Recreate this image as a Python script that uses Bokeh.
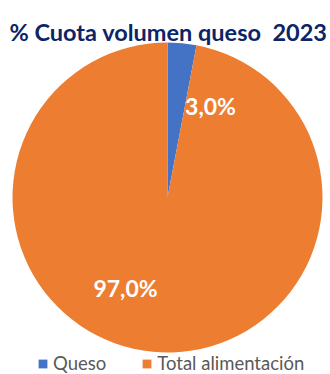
import math
from bokeh.plotting import figure
from bokeh.models import Range1d, Label, Legend, LegendItem
from bokeh.embed import file_html
from bokeh.resources import INLINE

title = "% Cuota volumen queso\u00a0\u00a02023"
categories = ["Queso", "Total alimentación"]
shares = [3.0, 97.0]
colors = ["#4472C4", "#ED7D31"]

# label placement (style)
label_pos = [(43, 92), (-42, -90.5)]

total = sum(shares)
starts, ends = [], []
a = math.pi / 2
for s in shares:
    starts.append(a)
    a = a - 2 * math.pi * s / total
    ends.append(a)

p = figure(width=330, height=374, output_backend="svg", toolbar_location=None,
           x_range=Range1d(-167, 163), y_range=Range1d(-177, 197),
           min_border=0, outline_line_color=None)
p.axis.visible = False
p.grid.visible = False
p.background_fill_color = "white"
p.border_fill_color = "white"

items = []
for i in range(len(categories)):
    r = p.wedge(x=0, y=0, radius=155, start_angle=starts[i], end_angle=ends[i],
                direction="clock", fill_color=colors[i], line_color=None)
    items.append(LegendItem(label=categories[i], renderers=[r]))

for i, v in enumerate(shares):
    txt = ("%.1f" % v).replace(".", ",") + "%"
    p.add_layout(Label(x=label_pos[i][0], y=label_pos[i][1], text=txt,
                       text_font="Lato", text_font_style="bold", text_font_size="23px",
                       text_color="white", text_align="center", text_baseline="middle"))

p.add_layout(Label(x=9, y=374 - 31, x_units="screen", y_units="screen", text=title,
                   text_font="Lato", text_font_style="bold", text_font_size="23.5px",
                   text_color="#0D2466", text_baseline="alphabetic"))

legend = Legend(items=items, orientation="horizontal", location=(37, 0),
                glyph_width=11, glyph_height=11, label_standoff=5, spacing=35,
                label_text_font="Lato", label_text_font_size="18.5px",
                label_text_color="#595959", border_line_color=None,
                background_fill_alpha=0, padding=0, margin=0)
p.add_layout(legend)

open("out.html", "w").write(file_html(p, INLINE))
